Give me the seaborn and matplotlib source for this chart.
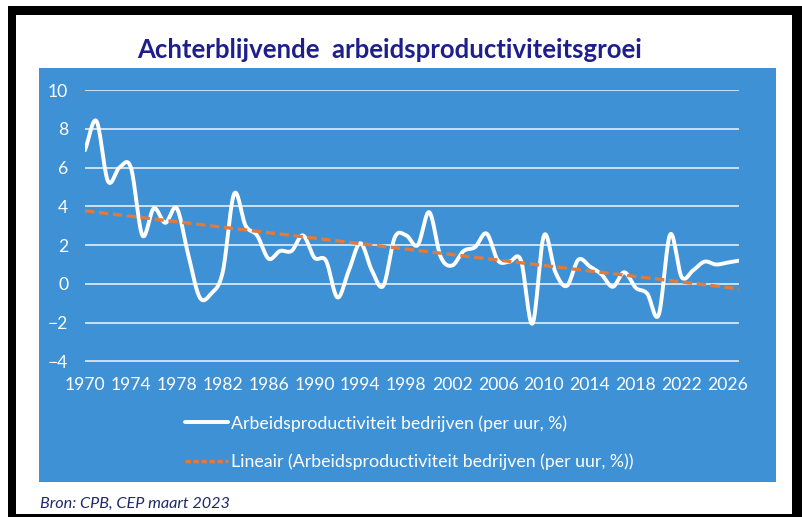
import numpy as np
import matplotlib
matplotlib.use("Agg")
import matplotlib.pyplot as plt
import seaborn as sns
from matplotlib.patches import Rectangle
from matplotlib.lines import Line2D

# data
years = np.arange(1970, 2028)
growth = [
    6.9, 8.4, 5.3, 6.0, 6.0, 2.5, 3.9, 3.15, 3.9, 1.5,       # 1970s
    -0.7, -0.5, 0.6, 4.65, 3.0, 2.5, 1.3, 1.7, 1.7, 2.5,     # 1980s
    1.35, 1.2, -0.7, 0.7, 2.1, 0.7, -0.1, 2.4, 2.5, 2.0,     # 1990s
    3.7, 1.4, 0.95, 1.7, 1.9, 2.6, 1.2, 1.15, 1.2, -2.05,    # 2000s
    2.5, 0.6, -0.1, 1.25, 0.9, 0.5, -0.15, 0.6, -0.2, -0.5,  # 2010s
    -1.6, 2.55, 0.35, 0.7, 1.15, 1.0, 1.1, 1.2,              # 2020s
]
x_ticks = list(range(1970, 2027, 4))
y_ticks = list(range(-4, 11, 2))
title = "Achterblijvende  arbeidsproductiviteitsgroei"
label_line = "Arbeidsproductiviteit bedrijven (per uur, %)"
label_trend = "Lineair (Arbeidsproductiviteit bedrijven (per uur, %))"
source = "Bron: CPB, CEP maart 2023"

BLUE = "#3F91D5"
ORANGE = "#E07B3C"
NAVY = "#1E1E8C"


def smooth(x, y, n=16):
    """Catmull-Rom path through the points, like Excel's smoothed line."""
    x = np.asarray(x, float)
    y = np.asarray(y, float)
    yp = np.r_[2 * y[0] - y[1], y, 2 * y[-1] - y[-2]]
    xs, ys = [], []
    t = np.linspace(0, 1, n, endpoint=False)
    for i in range(len(x) - 1):
        p0, p1, p2, p3 = yp[i:i + 4]
        ys.append(0.5 * (2 * p1 + (-p0 + p2) * t
                         + (2 * p0 - 5 * p1 + 4 * p2 - p3) * t ** 2
                         + (-p0 + 3 * p1 - 3 * p2 + p3) * t ** 3))
        xs.append(x[i] + t * (x[i + 1] - x[i]))
    return np.r_[np.concatenate(xs), x[-1]], np.r_[np.concatenate(ys), y[-1]]


sns.set_theme(style="white")
plt.rcParams["font.family"] = ["Lato", "DejaVu Sans"]

W, H = 802, 517
fig = plt.figure(figsize=(W / 100, H / 100), dpi=100)
fig.patch.set_facecolor("white")


def box(x0, y0, x1, y1, color, z=-1):
    fig.patches.append(Rectangle((x0 / W, 1 - y1 / H), (x1 - x0) / W, (y1 - y0) / H,
                                 transform=fig.transFigure, facecolor=color,
                                 edgecolor="none", zorder=z))


# black frame and blue panel
box(8, 6, 16, 517, "black")
box(8, 6, 802, 15, "black")
box(792, 6, 802, 517, "black")
box(8, 514, 802, 517, "black")
box(39, 68, 776, 482, BLUE)

ax = fig.add_axes([85 / W, 1 - 362 / H, (739 - 85) / W, (362 - 89.5) / H])
ax.patch.set_visible(False)

xs, ys = smooth(years, growth)
sns.lineplot(x=xs, y=ys, ax=ax, color="white", linewidth=2.8, sort=False,
             estimator=None, zorder=3)

coef = np.polyfit(years, growth, 1)
sns.lineplot(x=years, y=np.polyval(coef, years), ax=ax, color=ORANGE,
             linewidth=2.4, zorder=4)
ax.lines[-1].set_dashes((2.8, 1.4))

ax.set_xlim(1970, 2027)
ax.set_ylim(-4.03, 10.03)
ax.set_xticks(x_ticks)
ax.set_yticks(y_ticks)
ax.grid(axis="y", color="white", linewidth=1.2, alpha=0.85)
ax.grid(axis="x", visible=False)
for s in ax.spines.values():
    s.set_visible(False)
ax.tick_params(axis="both", length=0, colors="white", labelsize=12.6)
ax.tick_params(axis="y", pad=12)
ax.tick_params(axis="x", pad=11)

handles = [Line2D([], [], color="white", linewidth=2.8),
           Line2D([], [], color=ORANGE, linewidth=2.4, linestyle=(0, (1.6, 0.8)))]
fig.legend(handles, [label_line, label_trend], loc="upper left",
           bbox_to_anchor=(185 / W, 1 - 415 / H), frameon=False, fontsize=12.8,
           labelcolor="white", handlelength=2.4, handletextpad=0.2,
           labelspacing=1.25, borderpad=0, borderaxespad=0)

fig.text(390 / W, 1 - 50 / H, title, ha="center", va="center", fontsize=18.5,
         fontweight="bold", color=NAVY)
fig.text(40 / W, 1 - 504 / H, source, ha="left", va="center", fontsize=11.7,
         fontstyle="italic", color="#1F2A6B")

fig.savefig("out.png", dpi=100)
